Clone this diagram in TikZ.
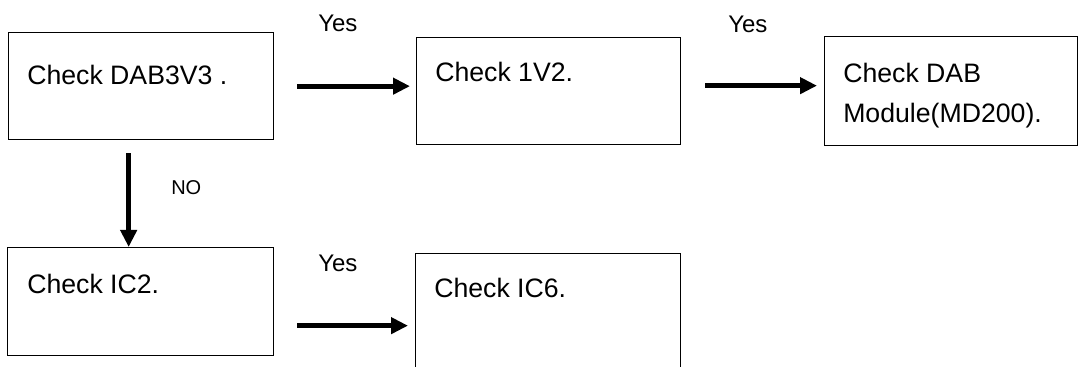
\documentclass[tikz,border=0pt]{standalone}
\usepackage{fontspec}
\setmainfont{Liberation Sans}
\usetikzlibrary{arrows.meta}
\newcommand{\px}{0.75pt}
\tikzset{
  box/.style={draw, line width=1pt, anchor=north west, inner sep=0pt},
  boxtext/.style={anchor=base west, inner sep=0pt, align=left, font=\fontsize{20}{30}\selectfont},
  yeslabel/.style={anchor=base west, inner sep=0pt, font=\fontsize{18}{22}\selectfont},
  nolabel/.style={anchor=base west, inner sep=0pt, font=\fontsize{15}{18}\selectfont},
  flow/.style={line width=3.75pt, -{Triangle[length=12.75pt, width=12pt]}}
}
\begin{document}
\begin{tikzpicture}[x=\px, y=\px]
\useasboundingbox (0,0) rectangle (1079,-367);
\clip (0,0) rectangle (1079,-367);

% Top row
\node[box, minimum width=265*\px, minimum height=107*\px] (b1) at (8,-32) {};
\node[box, minimum width=264*\px, minimum height=107*\px] (b2) at (416,-37) {};
\node[box, minimum width=253*\px, minimum height=109*\px] (b3) at (824,-36) {};

\node[boxtext] (t1) at (27,-85) {Check DAB3V3 .};
\node[boxtext] (t2) at (435,-82) {Check 1V2.};
\node[boxtext] (t3) at (843,-123) {Check DAB\\Module(MD200).};

\node[yeslabel] (y1) at (318,-32) {Yes};
\node[yeslabel] (y2) at (728,-33) {Yes};

\draw[flow, shorten <=23*\px, shorten >=6*\px] (b1.east) -- (b1.east -| b2.west);
\draw[flow, shorten <=24*\px, shorten >=7*\px] ([yshift=5.5*\px]b2.east) -- ([yshift=5.5*\px]b2.east -| b3.west);

% Bottom row
\node[box, minimum width=266*\px, minimum height=108*\px] (b4) at (7,-247) {};
\node[box, minimum width=265*\px, minimum height=125*\px] (b5) at (415,-253) {};

\node[boxtext] (t4) at (27,-293) {Check IC2.};
\node[boxtext] (t5) at (434,-297) {Check IC6.};

\node[yeslabel] (y3) at (318,-272) {Yes};
\draw[flow, shorten <=23*\px, shorten >=7*\px] ([yshift=-24*\px]b4.east) -- ([yshift=-24*\px]b4.east -| b5.west);

% NO branch
\draw[flow, shorten <=13*\px] ([xshift=-12.5*\px]b1.south) -- ([xshift=-12.5*\px]b1.south |- b4.north);
\node[nolabel] (n1) at (171,-195) {NO};

\end{tikzpicture}
\end{document}
